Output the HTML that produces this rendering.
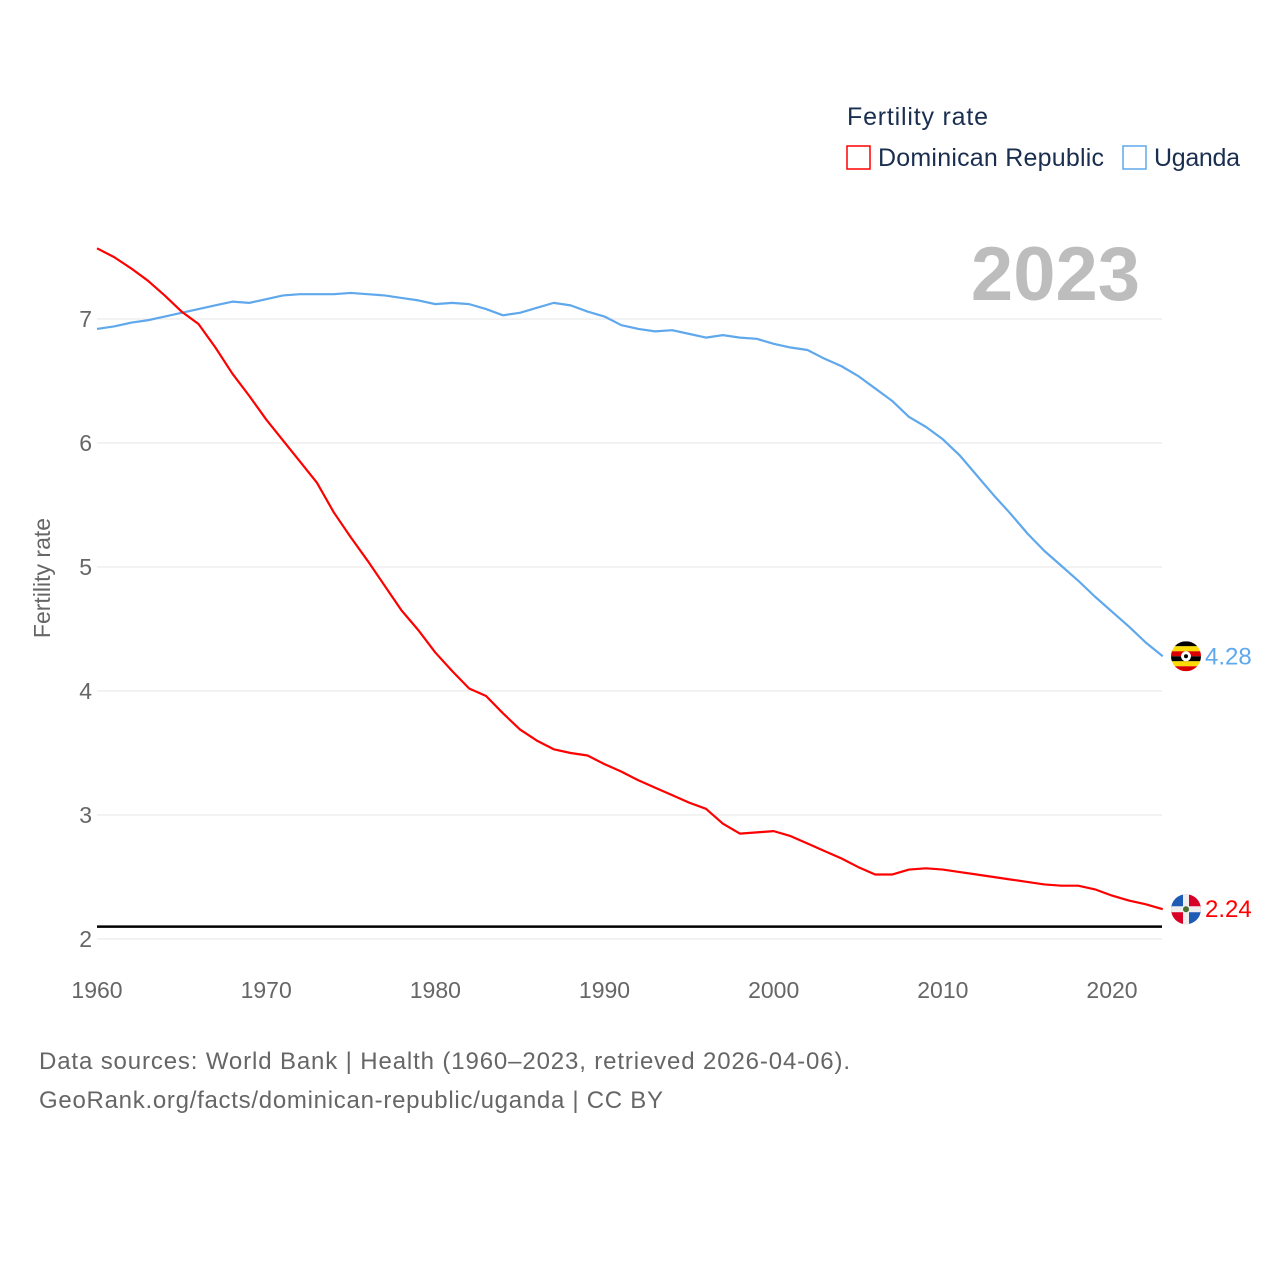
<!DOCTYPE html>
<html><head><meta charset="utf-8"><style>
body{margin:0;background:#fff;width:1280px;height:1280px;overflow:hidden;font-family:"Liberation Sans",sans-serif}
svg text{font-family:"Liberation Sans",sans-serif}
</style></head><body>
<svg id="chart" width="1280" height="1280" xmlns="http://www.w3.org/2000/svg">
<g id="grid"></g>
<g id="yticks"></g>
<g id="xticks"></g>
<text transform="translate(50,578) rotate(-90)" text-anchor="middle" font-size="23" fill="#666">Fertility rate</text>
<text x="1140" y="300" text-anchor="end" font-size="76" font-weight="bold" fill="#bdbdbd">2023</text>
<g>
<text x="847" y="125" font-size="25" fill="#1a2e50" textLength="141">Fertility rate</text>
<rect x="847" y="146" width="23" height="23" fill="none" stroke="#f00" stroke-width="1.5"/>
<text x="878" y="166" font-size="25" fill="#1a2e50" textLength="226">Dominican Republic</text>
<rect x="1123" y="146" width="23" height="23" fill="none" stroke="#5fa8ec" stroke-width="1.5"/>
<text x="1154" y="166" font-size="25" fill="#1a2e50" textLength="86">Uganda</text>
</g>
<g id="series"></g>
<text x="39" y="1069" font-size="24" fill="#666" textLength="811">Data sources: World Bank | Health (1960–2023, retrieved 2026-04-06).</text>
<text x="39" y="1108" font-size="24" fill="#666" textLength="624">GeoRank.org/facts/dominican-republic/uganda | CC BY</text>
</svg>
<script>
const years=[];for(let y=1960;y<=2023;y++)years.push(y);
const domRep=[7.57,7.50,7.41,7.31,7.19,7.06,6.96,6.77,6.56,6.38,6.19,6.02,5.85,5.68,5.44,5.24,5.05,4.85,4.65,4.49,4.31,4.16,4.02,3.96,3.82,3.69,3.60,3.53,3.50,3.48,3.41,3.35,3.28,3.22,3.16,3.10,3.05,2.93,2.85,2.86,2.87,2.83,2.77,2.71,2.65,2.58,2.52,2.52,2.56,2.57,2.56,2.54,2.52,2.50,2.48,2.46,2.44,2.43,2.43,2.40,2.35,2.31,2.28,2.24];
const uganda=[6.92,6.94,6.97,6.99,7.02,7.05,7.08,7.11,7.14,7.13,7.16,7.19,7.20,7.20,7.20,7.21,7.20,7.19,7.17,7.15,7.12,7.13,7.12,7.08,7.03,7.05,7.09,7.13,7.11,7.06,7.02,6.95,6.92,6.90,6.91,6.88,6.85,6.87,6.85,6.84,6.80,6.77,6.75,6.68,6.62,6.54,6.44,6.34,6.21,6.13,6.03,5.90,5.74,5.58,5.43,5.27,5.13,5.01,4.89,4.76,4.64,4.52,4.39,4.28];
const yTicks=[2,3,4,5,6,7];
const xTicks=[1960,1970,1980,1990,2000,2010,2020];
const replacementRate=2.1;
const NS="http://www.w3.org/2000/svg";
const X=v=>97+(v-1960)*(1112-97)/60;
const Y=v=>939-(v-2)*124;
function el(tag,attrs,parent,txt){const e=document.createElementNS(NS,tag);for(const k in attrs)e.setAttribute(k,attrs[k]);if(txt!==undefined)e.textContent=txt;parent.appendChild(e);return e;}
const grid=document.getElementById('grid'),yt=document.getElementById('yticks'),xt=document.getElementById('xticks'),ser=document.getElementById('series');
yTicks.forEach(t=>{
 const l=el('line',{x1:97,x2:1162,y1:Y(t),y2:Y(t),stroke:'#e6e6e6','stroke-width':1},grid);
 
 
 const tx=el('text',{x:92,y:Y(t)+8,'text-anchor':'end','font-size':23,fill:'#666'},yt,String(t));
 
 
});
xTicks.forEach(t=>{
 const tx=el('text',{x:X(t),y:998,'text-anchor':'middle','font-size':23,fill:'#666'},xt,String(t));
 
 
});
const rl=el('line',{x1:97,x2:1162,y1:Y(replacementRate),y2:Y(replacementRate),stroke:'#000','stroke-width':2.5},ser);


function line(data,color,name){
 const p=el('polyline',{points:data.map((v,i)=>X(years[i])+','+Y(v)).join(' '),fill:'none',stroke:color,'stroke-width':2.2,'stroke-linejoin':'round'},ser);
 
 
}
line(uganda,'#5fa8ec','uganda-line');
line(domRep,'#f00','dominican-republic-line');
function ugFlag(cy){
 const g=el('g',{},ser);
 
 
 const cp=el('clipPath',{id:'cu'},g);
 el('circle',{cx:1186,cy:cy,r:15},cp);
 const gg=el('g',{'clip-path':'url(#cu)'},g);
 const c=['#000','#fcdc04','#d90000','#000','#fcdc04','#d90000'];
 c.forEach((col,i)=>el('rect',{x:1171,y:cy-15+i*5,width:30,height:5,fill:col},gg));
 el('circle',{cx:1186,cy:cy,r:5,fill:'#fff'},gg);
 el('circle',{cx:1186,cy:cy,r:2,fill:'#000'},gg);
}
function drFlag(cy){
 const g=el('g',{},ser);
 
 
 const cp=el('clipPath',{id:'cd'},g);
 el('circle',{cx:1186,cy:cy,r:15},cp);
 const gg=el('g',{'clip-path':'url(#cd)'},g);
 el('rect',{x:1171,y:cy-15,width:15,height:15,fill:'#1e5bb5'},gg);
 el('rect',{x:1186,y:cy-15,width:15,height:15,fill:'#d80027'},gg);
 el('rect',{x:1171,y:cy,width:15,height:15,fill:'#d80027'},gg);
 el('rect',{x:1186,y:cy,width:15,height:15,fill:'#1e5bb5'},gg);
 el('rect',{x:1183,y:cy-15,width:6,height:30,fill:'#eee'},gg);
 el('rect',{x:1171,y:cy-3,width:30,height:6,fill:'#eee'},gg);
 el('circle',{cx:1186,cy:cy,r:3,fill:'#496e2d'},gg);
}
const uy=Y(uganda[uganda.length-1]),dy=Y(domRep[domRep.length-1]);
ugFlag(uy);drFlag(dy);
const ul=el('text',{x:1205,y:uy+8,'font-size':24,fill:'#5fa8ec'},ser,uganda[uganda.length-1].toFixed(2));


const dl=el('text',{x:1205,y:dy+8,'font-size':24,fill:'#f00'},ser,domRep[domRep.length-1].toFixed(2));


</script>
</body></html>
